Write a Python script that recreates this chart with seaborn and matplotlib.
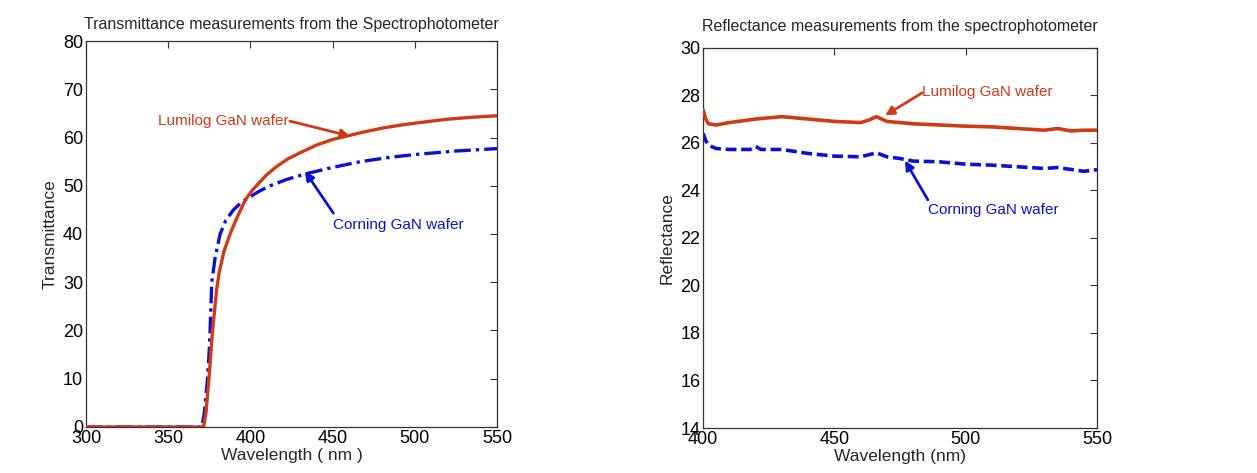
import numpy as np
import pandas as pd
import seaborn as sns
import matplotlib.pyplot as plt

# transmittance (left panel)
t_wl_lumilog = [300, 371.5, 373, 375, 377, 379.5, 381, 384, 388, 392, 397, 401, 405, 410, 416,
                423, 430, 440, 450, 460, 467, 481, 492, 503, 520, 535, 550]
t_lumilog = [0, 0, 3, 11, 20, 28.5, 32, 36.5, 40.3, 43.5, 47.1, 49, 50.5, 52.3, 54,
             55.6, 56.8, 58.4, 59.6, 60.4, 61, 62, 62.6, 63.1, 63.8, 64.2, 64.5]
t_wl_corning = [300, 370.5, 372, 373.9, 375, 375.5, 376.5, 378.5, 381.6, 385, 389.7, 394, 398.8,
                405, 412, 422, 434, 450, 467, 485, 501, 525, 550]
t_corning = [0, 0, 3, 10, 16, 20, 30, 35, 40, 42.8, 45, 46.4, 47.5,
             48.8, 50, 51.3, 52.5, 53.8, 55, 55.9, 56.5, 57.2, 57.7]

# reflectance (right panel)
r_wl_lumilog = [400, 401, 402, 405, 410, 420, 430, 440, 450, 460, 463, 466, 470, 480, 490, 500,
                510, 520, 530, 535, 540, 545, 550]
r_lumilog = [27.4, 27.0, 26.8, 26.75, 26.85, 27.0, 27.1, 27.0, 26.9, 26.85, 26.95, 27.1, 26.9,
             26.8, 26.75, 26.7, 26.67, 26.6, 26.53, 26.6, 26.5, 26.53, 26.53]
r_wl_corning = [400, 401, 402, 405, 410, 418, 420, 422, 430, 440, 450, 460, 466, 470, 475, 480,
                490, 500, 510, 520, 530, 535, 540, 545, 550]
r_corning = [26.4, 26.1, 25.9, 25.76, 25.72, 25.72, 25.85, 25.72, 25.72, 25.55, 25.44, 25.41,
             25.58, 25.41, 25.34, 25.23, 25.2, 25.1, 25.06, 24.99, 24.92, 24.96, 24.88, 24.8, 24.87]

RED = '#d03a17'
BLUE = '#0a10d8'

sns.set_style("white")
plt.rcParams['font.family'] = ['Liberation Sans', 'DejaVu Sans']
plt.rcParams['font.size'] = 11

fig = plt.figure(figsize=(12.57, 4.73), dpi=100)
ax1 = fig.add_axes([0.0684, 0.0973, 0.327, 0.816])
ax2 = fig.add_axes([0.5593, 0.0951, 0.3134, 0.804])

df_tl = pd.DataFrame({'wl': t_wl_lumilog, 'val': t_lumilog})
df_tc = pd.DataFrame({'wl': t_wl_corning, 'val': t_corning})
df_rl = pd.DataFrame({'wl': r_wl_lumilog, 'val': r_lumilog})
df_rc = pd.DataFrame({'wl': r_wl_corning, 'val': r_corning})

sns.lineplot(data=df_tc, x='wl', y='val', ax=ax1, color=BLUE, lw=2.4,
             linestyle=(0, (5, 1.5, 1, 1.5)), zorder=2)
sns.lineplot(data=df_tl, x='wl', y='val', ax=ax1, color=RED, lw=2.4, zorder=3)

sns.lineplot(data=df_rc, x='wl', y='val', ax=ax2, color=BLUE, lw=2.6,
             linestyle=(0, (3, 1.3)), zorder=2)
sns.lineplot(data=df_rl, x='wl', y='val', ax=ax2, color=RED, lw=2.6, zorder=3)

arrow = lambda c: dict(arrowstyle='-|>', color=c, lw=2, mutation_scale=13, shrinkA=0, shrinkB=0)

# left annotations
ax1.annotate('', xy=(460.6, 60.3), xytext=(424, 63.4), arrowprops=arrow(RED))
ax1.text(423.5, 63.4, 'Lumilog GaN wafer', color=RED, ha='right', va='center', fontsize=11)
ax1.annotate('', xy=(433.2, 53.0), xytext=(450.5, 44.3), arrowprops=arrow(BLUE))
ax1.text(450.2, 41.9, 'Corning GaN wafer', color=BLUE, ha='left', va='center', fontsize=11)

# right annotations
ax2.annotate('', xy=(469.3, 27.15), xytext=(483.4, 28.1), arrowprops=arrow(RED))
ax2.text(483.4, 28.13, 'Lumilog GaN wafer', color=RED, ha='left', va='center', fontsize=11)
ax2.annotate('', xy=(476.9, 25.25), xytext=(485.6, 23.6), arrowprops=arrow(BLUE))
ax2.text(485.6, 23.17, 'Corning GaN wafer', color=BLUE, ha='left', va='center', fontsize=11)

ax1.set_xlim(300, 550)
ax1.set_ylim(0, 80)
ax1.set_xticks(range(300, 551, 50))
ax1.set_yticks(range(0, 81, 10))
ax1.set_xlabel('Wavelength ( nm )', labelpad=1, fontsize=12.5)
ax1.set_ylabel('Transmittance', labelpad=4, fontsize=12.5)
ax1.set_title('Transmittance measurements from the Spectrophotometer', fontsize=11.5, pad=9)

ax2.set_xlim(400, 550)
ax2.set_ylim(14, 30)
ax2.set_xticks(range(400, 551, 50))
ax2.set_yticks(range(14, 31, 2))
ax2.set_xlabel('Wavelength (nm)', labelpad=1, fontsize=12.5)
ax2.set_ylabel('Reflectance', labelpad=4, fontsize=12.5)
ax2.set_title('Reflectance measurements from the spectrophotometer', fontsize=11.5, pad=12)

for ax in (ax1, ax2):
    ax.tick_params(direction='in', length=5, width=0.8, top=True, right=True,
                   labelsize=13, pad=2, colors='#333333', labelcolor='black')
    for s in ax.spines.values():
        s.set_color('#333333')
        s.set_linewidth(0.9)

fig.savefig('out.png', dpi=100)
